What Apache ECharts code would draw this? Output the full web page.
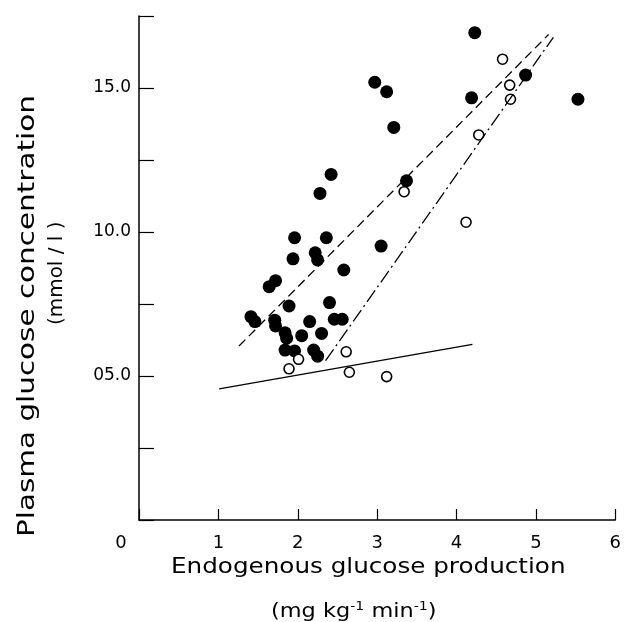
<!DOCTYPE html>
<html>
<head>
<meta charset="utf-8">
<script src="https://cdn.jsdelivr.net/npm/echarts@6/dist/echarts.min.js"></script>
<style>
  html, body { margin: 0; padding: 0; background: #fff; }
  #chart { width: 624px; height: 622px; }
</style>
</head>
<body>
<div id="chart"></div>
<script>
  // filled circles (x = glucose production, y = plasma glucose)
  var filledPoints = [
    [2.42, 12.0], [2.28, 11.34], [1.96, 9.80], [2.36, 9.80], [3.05, 9.51],
    [2.22, 9.28], [2.25, 9.03], [1.94, 9.07], [2.58, 8.68],
    [1.64, 8.10], [1.72, 8.31], [1.89, 7.43], [2.40, 7.55],
    [1.41, 7.06], [1.46, 6.89], [1.71, 6.94], [1.72, 6.74], [2.15, 6.89],
    [2.46, 6.97], [2.56, 6.97], [1.84, 6.50], [1.86, 6.31], [2.05, 6.40],
    [2.30, 6.48], [1.84, 5.90], [1.96, 5.87], [2.20, 5.90], [2.25, 5.69],
    [3.37, 11.78], [2.97, 15.2], [3.12, 14.87], [3.21, 13.63],
    [4.23, 16.92], [4.87, 15.45], [4.19, 14.66], [5.53, 14.61]
  ];
  // open circles
  var openPoints = [
    [2.01, 5.58], [1.89, 5.25], [2.61, 5.84], [2.65, 5.13], [3.12, 4.98],
    [3.34, 11.40], [4.12, 10.34], [4.28, 13.37], [4.58, 16.0],
    [4.67, 15.10], [4.68, 14.61]
  ];
  // fitted lines
  var dashedLine = [[1.26, 6.04], [5.16, 16.86]];
  var dashDotLine = [[2.35, 5.53], [5.22, 16.76]];
  var solidLine = [[1.01, 4.55], [4.2, 6.1]];

  var xTicks = [0, 1, 2, 3, 4, 5, 6];
  var yTickLabels = { 5: '05.0', 10: '10.0', 15: '15.0' };

  var font = 'DejaVu Sans';
  var chart = echarts.init(document.getElementById('chart'));

  chart.setOption({
    backgroundColor: '#fff',
    animation: false,
    grid: { left: 139, right: 7, top: 16, bottom: 102 },
    xAxis: {
      type: 'value',
      min: xTicks[0],
      max: xTicks[xTicks.length - 1],
      interval: 1,
      axisLine: { lineStyle: { color: '#000', width: 1.5 } },
      axisTick: { inside: true, length: 11, lineStyle: { color: '#000', width: 1.2 } },
      splitLine: { show: false },
      axisLabel: {
        color: '#000', fontFamily: font, fontSize: 18, margin: 14,
        formatter: function (v) { return v === 0 ? '{z|0}' : String(v); },
        rich: { z: { fontFamily: font, fontSize: 18, color: '#000', padding: [0, 36, 0, 0] } }
      }
    },
    yAxis: {
      type: 'value',
      min: 0,
      max: 17.5,
      interval: 2.5,
      axisLine: { lineStyle: { color: '#000', width: 1.5 } },
      axisTick: { inside: true, length: 15, lineStyle: { color: '#000', width: 1.2 } },
      splitLine: { show: false },
      axisLabel: {
        color: '#000', fontFamily: font, fontSize: 17, margin: 8,
        formatter: function (v) { return yTickLabels[v] || ''; }
      }
    },
    graphic: [
      {
        type: 'text', x: 171, y: 556, scaleX: 1.12,
        style: { text: 'Endogenous glucose production', font: '22px "DejaVu Sans"', fill: '#000' }
      },
      {
        type: 'text', x: 271, y: 601, scaleX: 1.18,
        style: {
          text: '(mg kg{s|-1} min{s|-1})',
          font: '19px "DejaVu Sans"', fill: '#000',
          rich: { s: { fontSize: 12, fontFamily: font, verticalAlign: 'top', padding: [0, 0, 10, 0] } }
        }
      },
      {
        type: 'text', rotation: Math.PI / 2, x: 17, y: 537, scaleX: 1.28,
        style: { text: 'Plasma glucose concentration', font: '23px "DejaVu Sans"', fill: '#000', textVerticalAlign: 'top' }
      },
      {
        type: 'text', rotation: Math.PI / 2, x: 48, y: 325, scaleX: 1.05,
        style: { text: '(mmol / l )', font: '19px "DejaVu Sans"', fill: '#000', textVerticalAlign: 'top' }
      }
    ],
    series: [
      {
        type: 'line', data: dashedLine, symbol: 'none', silent: true,
        lineStyle: { color: '#000', width: 1.3, type: [9, 5] }
      },
      {
        type: 'line', data: dashDotLine, symbol: 'none', silent: true,
        lineStyle: { color: '#000', width: 1.3, type: [14, 4, 2, 4] }
      },
      {
        type: 'line', data: solidLine, symbol: 'none', silent: true,
        lineStyle: { color: '#000', width: 1.3 }
      },
      {
        type: 'scatter', data: filledPoints, symbol: 'circle', symbolSize: 13,
        itemStyle: { color: '#000', opacity: 1 }
      },
      {
        type: 'scatter', data: openPoints, symbol: 'circle', symbolSize: 10,
        itemStyle: { color: '#fff', borderColor: '#000', borderWidth: 1.6, opacity: 1 }
      }
    ]
  });
</script>
</body>
</html>
